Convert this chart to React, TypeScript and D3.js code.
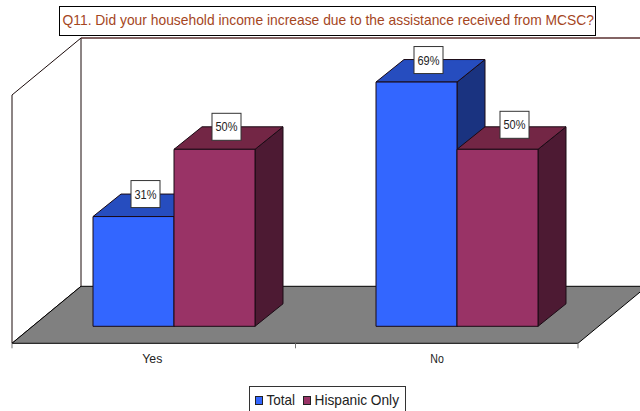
import React from "react";
import * as d3 from "d3";

// Survey answers and their per-series shares, in percent.
const categories = ["Yes", "No"];
const seriesNames = ["Total", "Hispanic Only"];
const totalValues = [31, 69];
const hispanicValues = [50, 50];
const valueLabels = [["31%", "69%"], ["50%", "50%"]];
const labelNudge = [[[12, -22.5], [12, -22]], [[12, -22.5], [17, -24.5]]];
const frontColors = ["#3366FF", "#993366"];
const topColors = ["#264DBF", "#732645"];
const sideColors = ["#1A3380", "#4D1A33"];
const titleText = "Q11. Did your household income increase due to the assistance received from MCSC?";

const W = 640;
const H = 411;
const depthX = 28;
const depthY = 22.5;
const wallDX = 69;
const wallDY = 57;
const groupInset = 81;

const y = d3.scaleLinear().domain([0, 70]).range([326.3, 78.5]);
const axisX = d3.scaleBand<string>().domain(categories).range([12, 578]);
const groupX = d3.scaleBand<string>().domain(seriesNames).range([0, 162]);
const line = d3.line();

const font = "'Liberation Sans', Arial, sans-serif";

function Bar({ x, w, v, i }: { x: number; w: number; v: number; i: number }) {
  const y0 = y(0);
  const t = y(v);
  return (
    <g stroke="#1a0a14" strokeWidth={1} strokeLinejoin="round">
      <path
        d={line([[x + w, t], [x + w + depthX, t - depthY], [x + w + depthX, y0 - depthY], [x + w, y0]])! + "Z"}
        fill={sideColors[i]}
      />
      <path
        d={line([[x, t], [x + depthX, t - depthY], [x + w + depthX, t - depthY], [x + w, t]])! + "Z"}
        fill={topColors[i]}
      />
      <rect x={x} y={t} width={w} height={y0 - t} fill={frontColors[i]} />
    </g>
  );
}

export default function App() {
  const w = groupX.bandwidth();
  const series = [totalValues, hispanicValues];
  const left = (c: number) => axisX(categories[c])! + groupInset;
  const barX = (c: number, s: number) => left(c) + groupX(seriesNames[s])!;
  const floorY = 343.3;
  const backY = floorY - wallDY;
  const wallTop = 38;
  const ticks = [12, 295.5, 578];
  return (
    <svg
      width={W}
      height={H}
      style={{ position: "absolute", left: 0, top: 0, background: "#fff" }}
      fontFamily={font}
    >
      {/* back wall and side wall */}
      <path
        d={line([[12, floorY], [12, wallTop + wallDY], [12 + wallDX, wallTop], [12 + wallDX, backY]])! + "Z"}
        fill="#fff"
        stroke="#1a0a0a"
      />
      <line x1={81} y1={wallTop} x2={W} y2={wallTop} stroke="#5a3030" strokeWidth={1.6} />
      {/* floor */}
      <path
        d={line([[12, floorY], [81, backY], [578 + wallDX, backY], [578, floorY]])! + "Z"}
        fill="#808080"
        stroke="#000"
      />
      {/* category axis */}
      {ticks.map((t) => (
        <line key={t} x1={t} x2={t} y1={floorY} y2={floorY + 5} stroke="#777" />
      ))}
      {categories.map((c, i) => (
        <text
          key={c}
          x={[142.3, 430.3][i]}
          y={363}
          fontSize={12.5}
          textLength={[20, 13.5][i]}
          lengthAdjust="spacingAndGlyphs"
          fill="#222"
        >
          {c}
        </text>
      ))}
      {/* bars, left to right so each one overlaps the side of the previous */}
      {categories.map((c, ci) =>
        series.map((vals, s) => <Bar key={`${c}-${s}`} x={barX(ci, s)} w={w} v={vals[ci]} i={s} />)
      )}
      {/* value labels */}
      {series.map((vals, s) =>
        vals.map((v, c) => {
          const cx = barX(c, s) + w / 2 + labelNudge[s][c][0];
          const cy = y(v) + labelNudge[s][c][1];
          return (
            <g key={`${s}-${c}`}>
              <rect x={cx - 14.5} y={cy - 13.5} width={29} height={27} fill="#fff" stroke="#333" />
              <text
                x={cx - 11}
                y={cy + 4.5}
                fontSize={13}
                textLength={22}
                lengthAdjust="spacingAndGlyphs"
                fill="#222"
              >
                {valueLabels[s][c]}
              </text>
            </g>
          );
        })
      )}
      {/* title */}
      <rect x={59.5} y={6.5} width={536} height={29} fill="#fff" stroke="#000" />
      <text
        x={62.5}
        y={25.3}
        fontSize={15}
        textLength={531.5}
        lengthAdjust="spacingAndGlyphs"
        fill="#A5461E"
      >
        {titleText}
      </text>
      {/* legend */}
      <rect x={249.5} y={386.5} width={156} height={26} fill="#fff" stroke="#333" />
      {seriesNames.map((n, i) => (
        <g key={n}>
          <rect x={[255.5, 303.5][i]} y={396.5} width={7} height={8} fill={frontColors[i]} stroke="#222" />
          <text
            x={[266.5, 314.5][i]}
            y={404.5}
            fontSize={15}
            textLength={[28.5, 84.5][i]}
            lengthAdjust="spacingAndGlyphs"
            fill="#222"
          >
            {n}
          </text>
        </g>
      ))}
    </svg>
  );
}
